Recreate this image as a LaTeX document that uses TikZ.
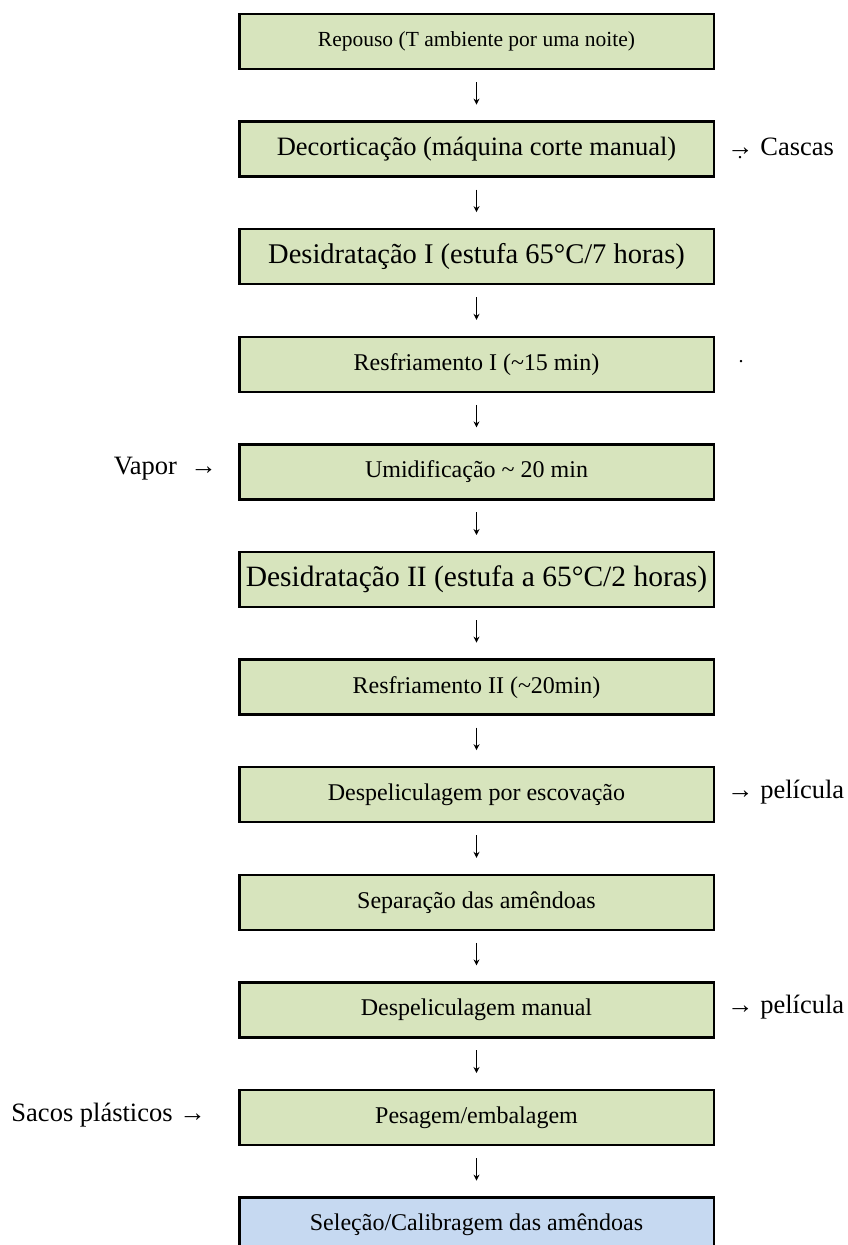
\documentclass[tikz,border=0pt]{standalone}
\usepackage{fontspec}
\setmainfont{Liberation Serif}
\usetikzlibrary{arrows.meta}
\definecolor{boxgreen}{HTML}{D7E4BD}
\definecolor{boxblue}{HTML}{C6D9F1}
\newcommand{\fsz}[1]{\fontsize{#1}{#1}\selectfont}
\tikzset{
  stepbox/.style={draw=black, line width=2.5pt, fill=boxgreen, minimum width=474.5pt, minimum height=55pt, inner sep=0pt, outer sep=0pt, font=\fsz{24}},
  lastbox/.style={stepbox, fill=boxblue},
  sidelabel/.style={inner sep=0pt, font=\fsz{26.5}},
  dotlabel/.style={inner sep=0pt, font=\fsz{20}},
  flowarrow/.style={line width=1pt, -{Stealth[length=6pt,width=6pt]}, shorten <=13pt, shorten >=17pt},
}
\begin{document}
\begin{tikzpicture}
\useasboundingbox (0pt,0pt) rectangle (847pt,-1245pt);
\node[stepbox, font=\fsz{21.5}] (b1) at (476.5pt,-41.5pt) {Repouso (T ambiente por uma noite)};
\node[stepbox, font=\fsz{26.5}] (b2) at (476.5pt,-149.1pt) {Decorticação (máquina corte manual)};
\node[stepbox, font=\fsz{28.5}] (b3) at (476.5pt,-256.7pt) {Desidratação I (estufa 65°C/7 horas)};
\node[stepbox] (b4) at (476.5pt,-364.3pt) {Resfriamento I (\textasciitilde15 min)};
\node[stepbox] (b5) at (476.5pt,-471.9pt) {Umidificação \textasciitilde{} 20 min};
\node[stepbox, font=\fsz{29.5}] (b6) at (476.5pt,-579.5pt) {Desidratação II (estufa a 65°C/2 horas)};
\node[stepbox] (b7) at (476.5pt,-687.1pt) {Resfriamento II (\textasciitilde20min)};
\node[stepbox] (b8) at (476.5pt,-794.7pt) {Despeliculagem por escovação};
\node[stepbox] (b9) at (476.5pt,-902.3pt) {Separação das amêndoas};
\node[stepbox] (b10) at (476.5pt,-1009.9pt) {Despeliculagem manual};
\node[stepbox] (b11) at (476.5pt,-1117.5pt) {Pesagem/embalagem};
\node[lastbox] (b12) at (476.5pt,-1225.1pt) {Seleção/Calibragem das amêndoas};

\foreach \a/\b in {b1/b2,b2/b3,b3/b4,b4/b5,b5/b6,b6/b7,b7/b8,b8/b9,b9/b10,b10/b11,b11/b12}
  \draw[flowarrow] (\a) -- (\b);

\node[sidelabel, anchor=west] (cascas) at (727pt,-147pt) {→ Cascas};
\node[dotlabel] (dot1) at (740pt,-158pt) {.};
\node[dotlabel] (dot2) at (741pt,-362pt) {.};
\node[sidelabel, anchor=east] (vapor) at (217pt,-469pt) {Vapor\enspace→};
\node[sidelabel, anchor=west] (pel1) at (727pt,-792pt) {→ película};
\node[sidelabel, anchor=west] (pel2) at (727pt,-1007pt) {→ película};
\node[sidelabel, anchor=east] (sacos) at (206pt,-1115pt) {Sacos plásticos →};
\end{tikzpicture}
\end{document}
